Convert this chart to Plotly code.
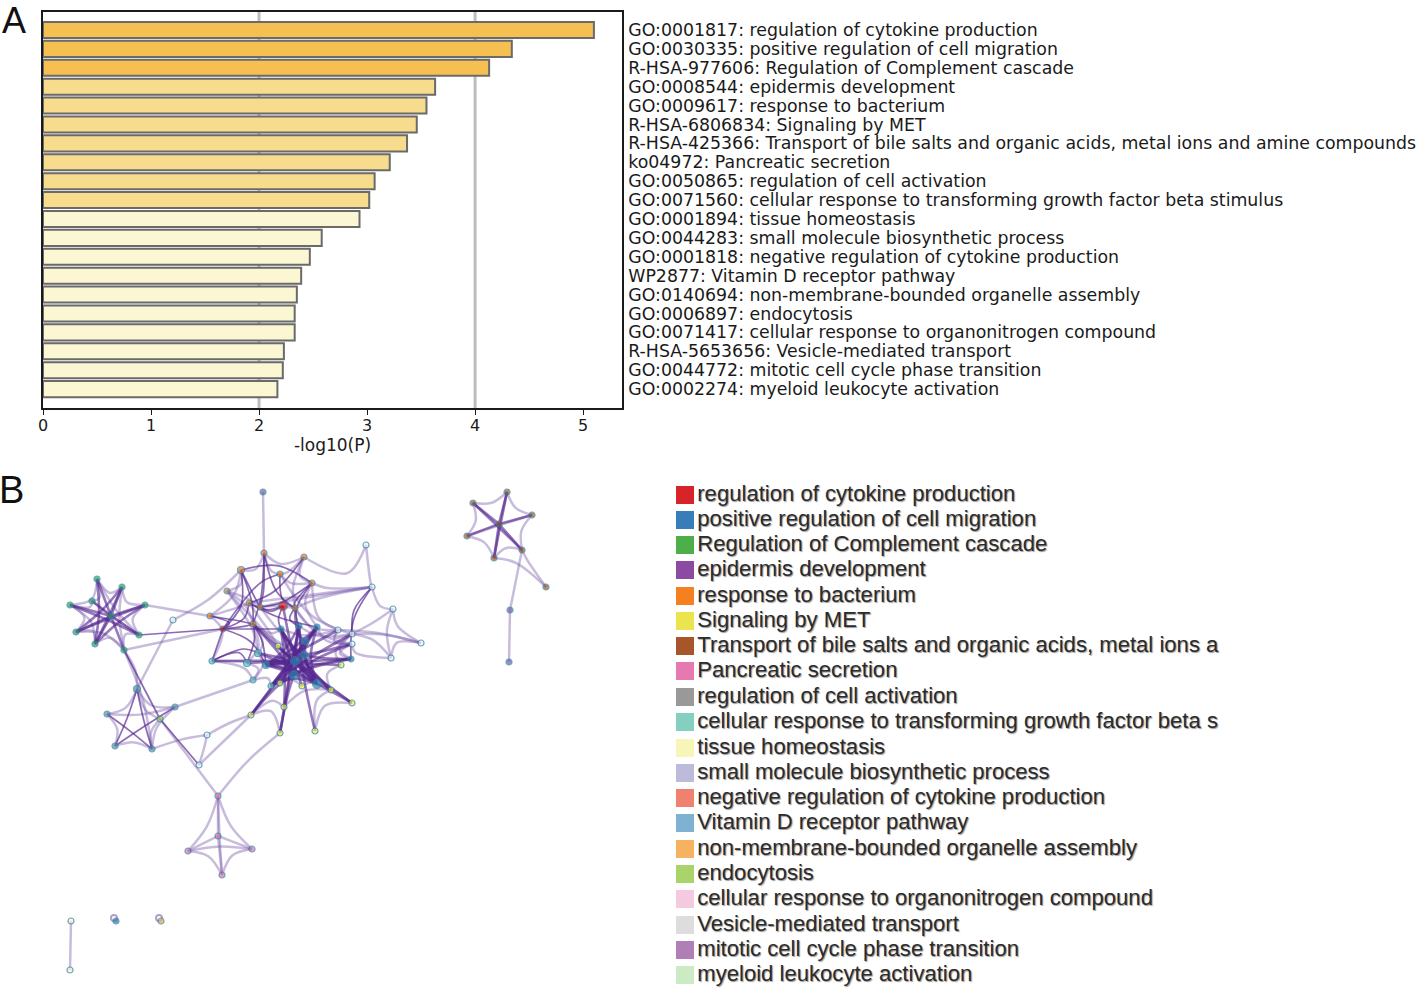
import plotly.graph_objects as go

# Panel A: enrichment bars
terms = [
    "GO:0001817: regulation of cytokine production",
    "GO:0030335: positive regulation of cell migration",
    "R-HSA-977606: Regulation of Complement cascade",
    "GO:0008544: epidermis development",
    "GO:0009617: response to bacterium",
    "R-HSA-6806834: Signaling by MET",
    "R-HSA-425366: Transport of bile salts and organic acids, metal ions and amine compounds",
    "ko04972: Pancreatic secretion",
    "GO:0050865: regulation of cell activation",
    "GO:0071560: cellular response to transforming growth factor beta stimulus",
    "GO:0001894: tissue homeostasis",
    "GO:0044283: small molecule biosynthetic process",
    "GO:0001818: negative regulation of cytokine production",
    "WP2877: Vitamin D receptor pathway",
    "GO:0140694: non-membrane-bounded organelle assembly",
    "GO:0006897: endocytosis",
    "GO:0071417: cellular response to organonitrogen compound",
    "R-HSA-5653656: Vesicle-mediated transport",
    "GO:0044772: mitotic cell cycle phase transition",
    "GO:0002274: myeloid leukocyte activation",
]
log_p = [5.10, 4.34, 4.13, 3.63, 3.55, 3.46, 3.37, 3.21, 3.07, 3.02,
         2.93, 2.58, 2.47, 2.39, 2.35, 2.33, 2.33, 2.23, 2.22, 2.17]
bar_colors = ["#f5bf52"] * 3 + ["#f7dc8e"] * 7 + ["#fbf7d3"] * 10

# Panel B: legend
legend_labels = [
    "regulation of cytokine production",
    "positive regulation of cell migration",
    "Regulation of Complement cascade",
    "epidermis development",
    "response to bacterium",
    "Signaling by MET",
    "Transport of bile salts and organic acids, metal ions a",
    "Pancreatic secretion",
    "regulation of cell activation",
    "cellular response to transforming growth factor beta s",
    "tissue homeostasis",
    "small molecule biosynthetic process",
    "negative regulation of cytokine production",
    "Vitamin D receptor pathway",
    "non-membrane-bounded organelle assembly",
    "endocytosis",
    "cellular response to organonitrogen compound",
    "Vesicle-mediated transport",
    "mitotic cell cycle phase transition",
    "myeloid leukocyte activation",
]
legend_colors = ["#d7242a", "#377eb8", "#4daf4a", "#8a4ba0", "#f58020", "#ebe44f", "#a65628",
                 "#e679b0", "#999999", "#85cfc0", "#f7f5b8", "#bebada", "#f08070", "#7fb1d3",
                 "#f6b260", "#a9d46a", "#f5cae0", "#dddddd", "#b07fb5", "#ccebc5"]
legend_x = [685] * 20
legend_y = [495, 520, 545, 570, 596, 621, 646, 671, 697, 722,
            748, 773, 798, 823, 849, 874, 899, 925, 950, 975]

# Panel B: network nodes
O, R, B, T, Y, W = "#e6812a", "#d7191c", "#2e7fb0", "#66c2c0", "#eef04a", "#eef6fa"
G, P, BR, V, S = "#2ca25f", "#e377b0", "#a65628", "#7a5fa8", "#5f93a8"
node_x = [263, 264, 304, 366, 241, 280, 312, 372, 227, 249, 260, 283, 295, 210, 253, 223, 173, 393, 421, 391,
          281, 299, 317, 338, 352, 352, 305, 278, 258, 304, 351, 212, 247, 266, 295, 341, 294, 253, 271, 280,
          302, 317, 331, 352, 284, 251, 280, 315, 160, 137, 107, 175, 115, 152, 207, 199,
          218, 218, 188, 252, 222, 71, 70, 116, 161,
          97, 122, 92, 70, 145, 111, 76, 139, 95, 124,
          507, 473, 532, 499, 467, 522, 494, 546, 510, 509]
node_y = [492, 553, 557, 545, 570, 574, 583, 587, 591, 603, 607, 606, 608, 616, 624, 629, 620, 609, 643, 658,
          629, 626, 627, 630, 634, 644, 641, 646, 653, 655, 659, 661, 663, 665, 661, 665, 675, 680, 686, 683,
          686, 684, 690, 703, 707, 715, 733, 731, 719, 689, 714, 707, 746, 749, 735, 765,
          796, 836, 851, 849, 875, 921, 970, 921, 921,
          579, 587, 601, 605, 605, 616, 632, 635, 644, 650,
          492, 503, 515, 524, 536, 550, 558, 587, 610, 662]
node_color = [V, O, O, W, O, O, O, W, "#c9825a", O, O, R, O, O, O, R, W, W, W, W,
              B, B, B, W, W, W, B, Y, T, B, B, T, T, B, B, Y, B, T, T, Y,
              Y, B, Y, Y, Y, Y, Y, Y, "#a6d854", S, S, S, S, S, W, W,
              P, P, P, P, P, "#f7f5c8", "#f7f5c8", B, "#f2b04a",
              G, G, G, G, G, G, G, G, G, G,
              BR, BR, BR, BR, BR, BR, BR, BR, V, V]
node_size = [6, 6, 6, 6, 7, 6, 6, 6, 6, 6, 6, 9, 6, 6, 6, 6, 6, 6, 6, 6,
             6, 6, 6, 6, 6, 6, 7, 6, 7, 8, 6, 6, 7, 7, 9, 6, 9, 6, 6, 6,
             6, 9, 6, 6, 6, 6, 6, 6, 6, 7, 6, 6, 6, 6, 6, 6,
             6, 6, 6, 6, 6, 6, 6, 6, 6,
             6, 6, 6, 6, 6, 6, 6, 6, 6, 6,
             6, 6, 6, 6, 6, 6, 6, 6, 6, 6]
loop_x = [114, 159]
loop_y = [918, 918]

# edges as node index pairs, one list per region and tone
hub_dark = [(20, 36), (20, 41), (21, 36), (21, 33), (21, 41), (22, 36), (22, 33), (22, 41), (26, 38), (26, 41),
            (29, 33), (29, 38), (29, 42), (30, 33), (30, 36), (33, 41), (33, 34), (34, 41), (34, 42), (30, 29),
            (31, 34), (32, 34), (28, 41), (28, 34), (45, 34), (45, 22), (45, 36), (46, 36), (46, 21), (47, 21),
            (43, 34), (43, 33), (44, 21), (44, 20), (27, 41), (27, 34), (38, 22), (39, 22), (40, 20), (42, 20),
            (23, 33), (24, 38), (25, 36), (25, 29), (35, 33), (36, 39), (36, 33), (41, 38), (30, 38), (20, 29),
            (11, 34), (12, 26), (14, 41), (14, 36)]
hub_light = [(23, 24), (24, 25), (23, 25), (25, 30), (24, 30), (43, 42), (43, 47), (47, 42), (46, 45), (45, 44),
             (44, 42), (28, 37), (37, 32), (37, 38), (31, 37), (31, 32), (32, 14), (35, 42), (46, 44), (38, 39),
             (39, 40), (40, 42), (23, 20), (24, 21), (14, 20), (28, 14), (35, 24), (19, 25), (8, 27), (14, 29),
             (12, 23), (6, 23), (10, 29), (9, 27), (12, 25), (22, 25), (5, 24), (8, 28)]
top_dark = [(1, 14), (1, 10), (2, 9), (4, 14), (4, 10), (5, 12), (6, 10), (6, 12), (11, 10), (11, 9),
            (11, 20), (6, 21), (12, 21), (15, 14), (15, 9), (15, 4), (14, 32), (31, 28), (31, 32), (13, 14),
            (13, 15), (9, 22), (1, 12), (15, 33), (14, 33)]
top_arc = [(4, 6), (5, 15)]
top_light = [(1, 2), (1, 5), (2, 5), (2, 6), (4, 1), (4, 8), (8, 10), (8, 14), (5, 6), (6, 7),
             (7, 9), (7, 12), (13, 31), (4, 13), (2, 12), (10, 12), (9, 13), (6, 22), (7, 10)]
right_light = [(17, 24), (17, 18), (17, 19), (18, 19), (18, 24), (18, 23), (19, 24), (17, 7), (3, 7), (2, 3)]
right_dark = [(7, 24), (7, 30)]
curved_light = [(16, 4), (46, 56), (45, 54), (53, 54), (54, 55), (74, 49), (74, 53)]
straight_light = [(0, 1), (61, 62), (83, 84), (69, 13), (74, 15), (16, 49), (51, 37), (45, 55), (48, 56), (80, 83)]
straight_dark = [(72, 15), (15, 20), (48, 55), (74, 48), (15, 31)]
green_dark = [(70, 65), (70, 66), (70, 68), (70, 69), (70, 71), (70, 72), (70, 73), (70, 74), (65, 73), (66, 73),
              (68, 72), (69, 71), (67, 70), (71, 66), (73, 69)]
green_light = [(65, 66), (66, 69), (69, 72), (72, 74), (74, 73), (73, 71), (71, 68), (68, 65), (65, 67), (67, 68),
               (67, 72), (65, 72), (66, 74), (71, 74), (68, 73)]
lower_dark = [(49, 53), (49, 52), (51, 52), (50, 53)]
lower_light = [(49, 50), (49, 51), (50, 51), (50, 52), (52, 53), (51, 53), (48, 53), (48, 49)]
pink_light = [(56, 57), (56, 58), (56, 59), (56, 60), (57, 58), (57, 59), (57, 60), (58, 59), (58, 60), (59, 60)]
brown_dark = [(78, 76), (78, 80), (78, 75), (78, 81), (78, 77), (78, 79), (76, 80), (75, 81)]
brown_light = [(75, 76), (75, 77), (76, 79), (79, 81), (81, 80), (80, 77), (77, 79), (81, 82), (80, 82)]


def edge_path(pairs, pull, bend):
    # a middle point per edge, dragged towards the cluster centre; the spline does the rest
    xs, ys = [], []
    for a, b in pairs:
        mx = (node_x[a] + node_x[b]) / 2
        my = (node_y[a] + node_y[b]) / 2
        xs += [node_x[a], mx + bend * (pull[0] - mx), node_x[b], None]
        ys += [node_y[a], my + bend * (pull[1] - my), node_y[b], None]
    return xs, ys


LIGHT = dict(color="rgba(125,95,175,0.42)", width=2.5)
DARK = dict(color="rgba(84,39,143,0.68)", width=1.7)
THICK = dict(color="rgba(84,39,143,0.62)", width=2.6)

edge_sets = [
    (hub_light, (292, 660), 0.2, LIGHT),
    (top_light, (268, 600), 0.2, LIGHT),
    (right_light, (375, 625), 0.3, LIGHT),
    (curved_light, (230, 690), 0.05, LIGHT),
    (straight_light, (0, 0), 0, LIGHT),
    (green_light, (111, 616), 0.3, LIGHT),
    (lower_light, (136, 727), 0.25, LIGHT),
    (pink_light, (218, 836), 0.25, LIGHT),
    (brown_light, (499, 524), 0.2, LIGHT),
    (top_dark, (268, 625), 0.25, DARK),
    (top_arc, (280, 540), 0.3, DARK),
    (hub_dark, (292, 660), 0.25, THICK),
    (right_dark, (330, 610), 0.25, DARK),
    (straight_dark, (0, 0), 0, DARK),
    (green_dark, (111, 616), 0.2, THICK),
    (lower_dark, (136, 727), 0.1, DARK),
    (brown_dark, (499, 524), 0.1, THICK),
]

fig = go.Figure()

fig.add_trace(go.Bar(
    x=log_p,
    y=terms,
    orientation="h",
    width=0.85,
    marker=dict(color=bar_colors, line=dict(color="#6a6a6a", width=2)),
    showlegend=False,
))

for pairs, pull, bend, style in edge_sets:
    ex, ey = edge_path(pairs, pull, bend)
    fig.add_trace(go.Scatter(
        x=ex, y=ey, xaxis="x2", yaxis="y2", mode="lines",
        line=dict(shape="spline", smoothing=1.0, **style),
        hoverinfo="skip", showlegend=False,
    ))

# the two self-loops of the isolated nodes
fig.add_trace(go.Scatter(
    x=loop_x, y=loop_y, xaxis="x2", yaxis="y2", mode="markers",
    marker=dict(symbol="circle-open", size=6, color="rgba(125,95,175,0.6)", line=dict(width=2)),
    hoverinfo="skip", showlegend=False,
))

fig.add_trace(go.Scatter(
    x=node_x, y=node_y, xaxis="x2", yaxis="y2", mode="markers",
    marker=dict(color=node_color, size=node_size, line=dict(color="#2f7f9c", width=1.2)),
    showlegend=False,
))

fig.add_trace(go.Scatter(
    x=legend_x, y=legend_y, xaxis="x2", yaxis="y2", mode="markers+text",
    marker=dict(symbol="square", size=18, color=legend_colors),
    text=legend_labels,
    textposition="middle right",
    textfont=dict(family="Liberation Sans", size=22.1, color="#2b2b2b",
                  shadow="1px 1px 1px #999999"),
    showlegend=False,
))

fig.add_vline(x=2, line=dict(color="#bdbdbd", width=3), layer="below", xref="x")
fig.add_vline(x=4, line=dict(color="#bdbdbd", width=3), layer="below", xref="x")

fig.update_layout(
    width=1416,
    height=990,
    margin=dict(l=0, r=0, t=0, b=0, autoexpand=False),
    paper_bgcolor="white",
    plot_bgcolor="rgba(0,0,0,0)",
    font=dict(family="DejaVu Sans", color="#1a1a1a"),
    xaxis=dict(
        domain=[43 / 1416, 622 / 1416],
        range=[0, 5.36],
        anchor="y",
        tickvals=[0, 1, 2, 3, 4, 5],
        ticks="outside",
        ticklen=5,
        tickcolor="#1a1a1a",
        tickfont=dict(size=16),
        ticklabelstandoff=-3,
        showgrid=False,
        zeroline=False,
        showline=True,
        mirror=True,
        linecolor="#1a1a1a",
        linewidth=1.6,
        title=dict(text="-log10(P)", font=dict(size=17), standoff=5),
    ),
    yaxis=dict(
        domain=[1 - 408 / 990, 1 - 12 / 990],
        type="category",
        range=[20.0, -0.95],
        anchor="x",
        side="right",
        ticks="",
        tickmode="linear",
        dtick=1,
        tickfont=dict(size=17.35),
        ticklabelstandoff=1,
        showgrid=False,
        zeroline=False,
        showline=True,
        mirror=True,
        linecolor="#1a1a1a",
        linewidth=1.6,
        automargin=False,
    ),
    xaxis2=dict(domain=[0, 1], range=[0, 1416], visible=False, anchor="y2"),
    yaxis2=dict(domain=[0, 1], range=[990, 0], visible=False, anchor="x2"),
    annotations=[
        dict(text="A", x=14 / 1416, y=1 - 20 / 990, xref="paper", yref="paper", showarrow=False,
             xanchor="center", yanchor="middle",
             font=dict(family="Liberation Sans", size=36, color="#111111")),
        dict(text="B", x=11 / 1416, y=1 - 490 / 990, xref="paper", yref="paper", showarrow=False,
             xanchor="center", yanchor="middle",
             font=dict(family="Liberation Sans", size=38, color="#111111")),
    ],
)

fig.write_html("out.html", post_script="document.body.style.margin='0';",
               config=dict(displayModeBar=False))
